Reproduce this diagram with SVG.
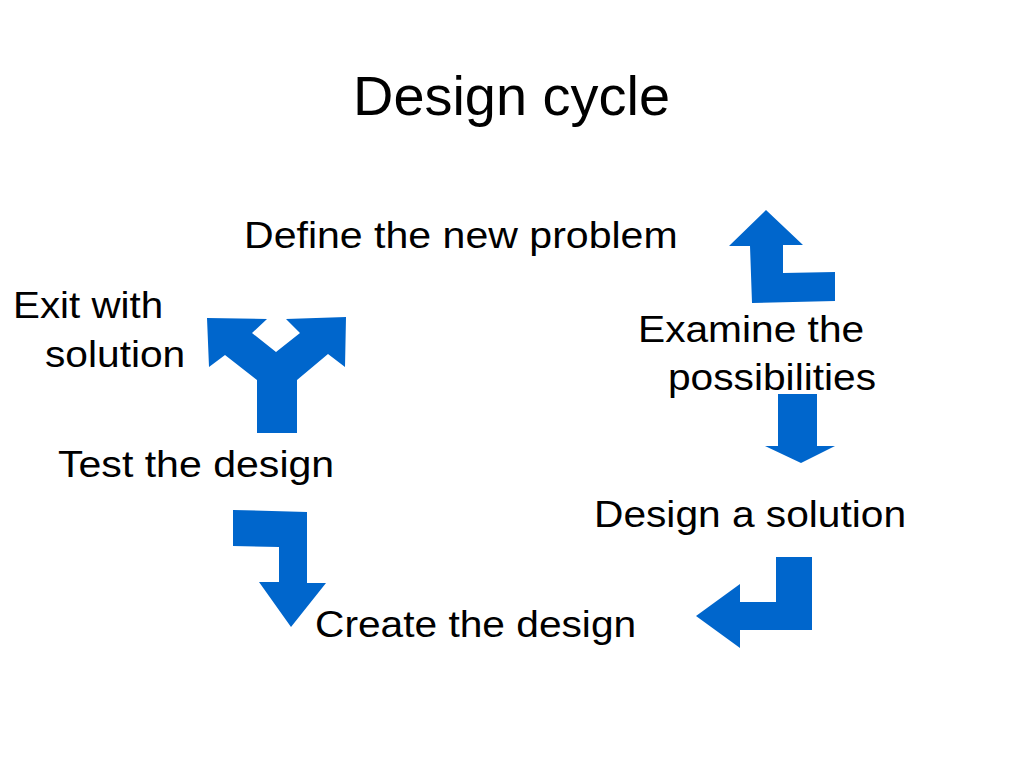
<svg xmlns="http://www.w3.org/2000/svg" width="1023" height="767" viewBox="0 0 1023 767">
<style>
text{font-family:"Liberation Sans",Arial,sans-serif;fill:#000}
.t{font-size:37px}
.title{font-size:56px}
.arr{fill:#0066cc}
</style>
<rect width="1023" height="767" fill="#fff"/>
<text class="title" x="353" y="115" textLength="317" lengthAdjust="spacingAndGlyphs">Design cycle</text>
<g id="define"><text class="t" transform="translate(244,248) scale(1.11,1)">Define the new problem</text></g>
<g id="exit"><text class="t" transform="translate(13,318) scale(1.09,1)">Exit with</text><text class="t" transform="translate(45,367) scale(1.1,1)">solution</text></g>
<g id="examine"><text class="t" transform="translate(638,342) scale(1.1,1)">Examine the</text><text class="t" transform="translate(668,390) scale(1.1,1)">possibilities</text></g>
<g id="designsol"><text class="t" transform="translate(594,527) scale(1.1,1)">Design a solution</text></g>
<g id="test"><text class="t" transform="translate(58,477) scale(1.11,1)">Test the design</text></g>
<g id="create"><text class="t" transform="translate(315,637) scale(1.1,1)">Create the design</text></g>
<g id="connectors">
<polygon class="arr" points="766,210 803,245 783,245 783,273 835,272 835,301 752,303 750,246 729,246"/>
<polygon class="arr" points="778,394 817,394 817,446 835,446 801,463 765,446 778,446"/>
<polygon class="arr" points="776,557 812,557 812,630 740,630 740,648 696,616 740,584 740,602 776,602"/>
<polygon class="arr" points="233,510 307,512 307,583 326,583 291,627 259,582 279,582 279,547 233,546"/>
<polygon class="arr" points="207,318 267,319 252,333 276,352 300,333 286,319 346,317 345,367 328,354 297,380 297,433 257,433 257,380 225,355 209,367"/>
</g>
</svg>
